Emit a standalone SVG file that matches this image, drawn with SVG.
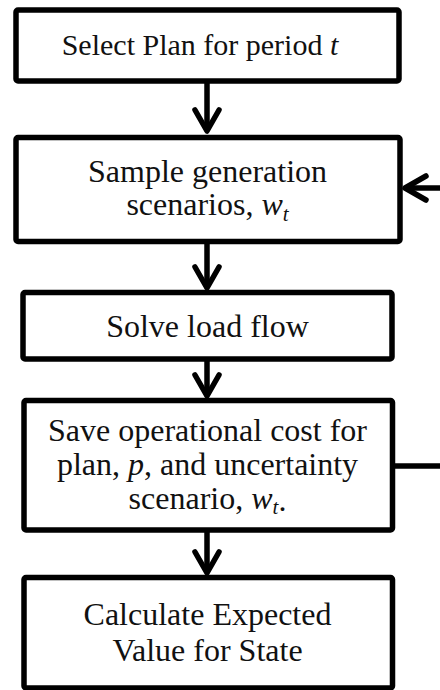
<svg xmlns="http://www.w3.org/2000/svg" width="440" height="690" viewBox="0 0 440 690">
<style>
.box{fill:#fff;stroke:#000;stroke-width:5.5;stroke-linejoin:round}
.t{font-size:32px;fill:#111;text-anchor:middle}
.i{font-style:italic}
.sub{font-style:italic;font-size:21px}
.c{fill:none;stroke:#000;stroke-width:5.5}
</style>
<defs>
<marker id="arr" markerUnits="userSpaceOnUse" markerWidth="40" markerHeight="40" viewBox="-30 -20 40 40" refX="0" refY="0" orient="auto" overflow="visible">
<path d="M-21,-12 L0,0 L-21,12" fill="none" stroke="#000" stroke-width="5.5" stroke-linecap="round" stroke-linejoin="round"/>
</marker>
</defs>
<g id="connectors">
<line class="c" x1="207" y1="83" x2="207" y2="131" marker-end="url(#arr)"/>
<line class="c" x1="207" y1="244" x2="207" y2="288" marker-end="url(#arr)"/>
<line class="c" x1="207" y1="361" x2="207" y2="396" marker-end="url(#arr)"/>
<line class="c" x1="207" y1="532" x2="207" y2="573" marker-end="url(#arr)"/>
<path class="c" d="M395,466 H448 V188 H405" marker-end="url(#arr)"/>
</g>
<g font-family="Liberation Serif, serif">
<g id="n1">
<rect class="box" x="16" y="10" width="383" height="71" rx="2"/>
<text class="t" x="200" y="55" font-size="30" style="font-size:30px">Select Plan for period <tspan class="i">t</tspan></text>
</g>
<g id="n2">
<rect class="box" x="16" y="137.5" width="384" height="104" rx="2"/>
<text class="t" x="207.5" y="181.5">Sample generation</text>
<text class="t" x="207.5" y="215">scenarios, <tspan class="i">w</tspan><tspan class="sub" dy="5.5">t</tspan></text>
</g>
<g id="n3">
<rect class="box" x="23" y="292.5" width="369" height="66.5" rx="2"/>
<text class="t" x="207.5" y="337">Solve load flow</text>
</g>
<g id="n4">
<rect class="box" x="24" y="400.5" width="368.5" height="129.5" rx="2"/>
<text class="t" x="207.5" y="441">Save operational cost for</text>
<text class="t" x="207.5" y="475">plan, <tspan class="i">p</tspan>, and uncertainty</text>
<text class="t" x="207.5" y="508.5">scenario, <tspan class="i">w</tspan><tspan class="sub" dy="5.5">t</tspan><tspan dy="-3">.</tspan></text>
</g>
<g id="n5">
<rect class="box" x="24" y="577.5" width="368.5" height="110.5" rx="2"/>
<text class="t" x="207.5" y="625">Calculate Expected</text>
<text class="t" x="207.5" y="661">Value for State</text>
</g>
</g>
</svg>
